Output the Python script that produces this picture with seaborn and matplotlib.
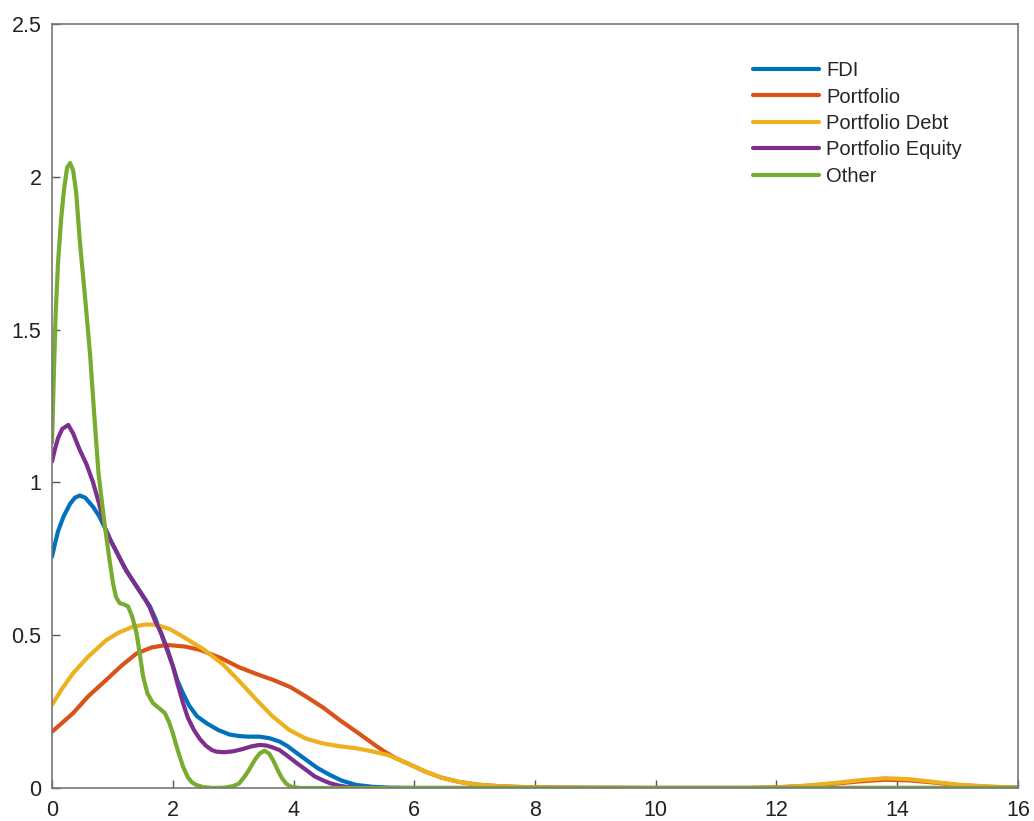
import matplotlib
matplotlib.use("Agg")
import matplotlib.pyplot as plt
import seaborn as sns
import pandas as pd

# ---- data (density curves) ----
fdi_x = [0.0, 0.05, 0.1, 0.19, 0.3, 0.38, 0.46, 0.55, 0.68, 0.78, 0.88, 0.97, 1.05, 1.14, 1.23, 1.35, 1.45,
         1.55, 1.62, 1.7, 1.8, 1.9, 2.0, 2.08, 2.17, 2.27, 2.4, 2.56, 2.75, 2.94, 3.1, 3.25, 3.44, 3.6, 3.77,
         3.9, 4.05, 4.21, 4.4, 4.6, 4.8, 5.04, 5.3, 5.6, 6.0, 8.0, 10.0, 12.0, 14.0, 16.0]
fdi_y = [0.757, 0.8, 0.84, 0.888, 0.93, 0.95, 0.957, 0.95, 0.92, 0.89, 0.85, 0.81, 0.78, 0.745, 0.713, 0.675,
         0.645, 0.615, 0.595, 0.56, 0.51, 0.455, 0.4, 0.35, 0.31, 0.27, 0.235, 0.212, 0.19, 0.175, 0.17, 0.168,
         0.168, 0.163, 0.152, 0.137, 0.115, 0.092, 0.065, 0.043, 0.024, 0.01, 0.004, 0.001, 0.0, 0.0, 0.0, 0.0,
         0.0, 0.0]

port_x = [0.0, 0.15, 0.35, 0.6, 0.9, 1.15, 1.4, 1.65, 1.9, 2.2, 2.45, 2.8, 3.1, 3.4, 3.66, 3.95, 4.21, 4.5,
          4.76, 5.05, 5.31, 5.5, 5.7, 5.95, 6.19, 6.45, 6.74, 7.05, 7.4, 7.8, 8.5, 10.0, 11.5, 12.0, 12.5, 13.0,
          13.4, 13.8, 14.2, 14.6, 15.0, 15.5, 16.0]
port_y = [0.184, 0.21, 0.245, 0.3, 0.354, 0.4, 0.44, 0.46, 0.468, 0.463, 0.452, 0.425, 0.395, 0.372, 0.354,
          0.33, 0.299, 0.262, 0.223, 0.183, 0.146, 0.12, 0.097, 0.075, 0.053, 0.034, 0.02, 0.011, 0.006, 0.003,
          0.001, 0.0, 0.0, 0.002, 0.007, 0.015, 0.022, 0.027, 0.025, 0.018, 0.01, 0.004, 0.001]

debt_x = [0.0, 0.15, 0.35, 0.6, 0.9, 1.1, 1.34, 1.55, 1.73, 1.95, 2.17, 2.5, 2.83, 3.1, 3.38, 3.65, 3.93,
          4.2, 4.48, 4.75, 5.04, 5.3, 5.56, 5.7, 5.95, 6.19, 6.45, 6.74, 7.05, 7.4, 7.8, 8.5, 10.0, 11.5, 12.0,
          12.5, 13.0, 13.4, 13.8, 14.2, 14.6, 15.0, 15.5, 16.0]
debt_y = [0.272, 0.32, 0.376, 0.43, 0.484, 0.508, 0.528, 0.535, 0.534, 0.52, 0.495, 0.455, 0.405, 0.35, 0.29,
          0.235, 0.19, 0.162, 0.146, 0.137, 0.13, 0.12, 0.108, 0.097, 0.075, 0.053, 0.034, 0.02, 0.011, 0.006,
          0.003, 0.001, 0.0, 0.0, 0.002, 0.008, 0.017, 0.026, 0.032, 0.029, 0.02, 0.011, 0.005, 0.001]

eq_x = [0.0, 0.05, 0.1, 0.17, 0.27, 0.35, 0.46, 0.57, 0.68, 0.78, 0.88, 0.97, 1.05, 1.14, 1.23, 1.35, 1.45,
        1.55, 1.62, 1.7, 1.8, 1.9, 2.0, 2.08, 2.17, 2.25, 2.35, 2.45, 2.55, 2.65, 2.72, 2.85, 3.0, 3.15, 3.3,
        3.44, 3.55, 3.65, 3.77, 3.9, 4.05, 4.21, 4.35, 4.5, 4.6, 4.75, 4.9, 5.1, 5.5, 8.0, 10.0, 12.0, 14.0, 16.0]
eq_y = [1.068, 1.11, 1.145, 1.175, 1.188, 1.16, 1.106, 1.06, 1.0, 0.93, 0.85, 0.81, 0.78, 0.745, 0.71, 0.675,
        0.645, 0.615, 0.59, 0.55, 0.51, 0.46, 0.4, 0.34, 0.278, 0.23, 0.19, 0.16, 0.138, 0.124, 0.119, 0.117,
        0.12, 0.127, 0.136, 0.141, 0.139, 0.133, 0.124, 0.105, 0.082, 0.059, 0.038, 0.024, 0.016, 0.008, 0.003,
        0.001, 0.0, 0.0, 0.0, 0.0, 0.0, 0.0]

oth_x = [0.0, 0.03, 0.06, 0.1, 0.15, 0.2, 0.25, 0.3, 0.35, 0.4, 0.46, 0.55, 0.63, 0.7, 0.77, 0.83, 0.88, 0.95,
         1.01, 1.06, 1.12, 1.2, 1.26, 1.33, 1.4, 1.46, 1.51, 1.58, 1.67, 1.78, 1.87, 1.94, 2.0, 2.08, 2.17,
         2.25, 2.32, 2.39, 2.5, 2.67, 2.85, 3.0, 3.1, 3.2, 3.28, 3.36, 3.44, 3.52, 3.6, 3.67, 3.74, 3.81, 3.88,
         3.95, 4.1, 6.0, 8.0, 10.0, 12.0, 14.0, 16.0]
oth_y = [1.13, 1.35, 1.55, 1.72, 1.86, 1.96, 2.03, 2.045, 2.02, 1.95, 1.79, 1.6, 1.42, 1.22, 1.03, 0.93, 0.85,
         0.75, 0.67, 0.625, 0.605, 0.6, 0.594, 0.56, 0.507, 0.43, 0.364, 0.31, 0.278, 0.26, 0.245, 0.215, 0.18,
         0.125, 0.07, 0.035, 0.018, 0.01, 0.003, 0.0, 0.001, 0.006, 0.015, 0.04, 0.065, 0.092, 0.113, 0.122,
         0.112, 0.088, 0.058, 0.032, 0.014, 0.005, 0.0, 0.0, 0.0, 0.0, 0.0, 0.0, 0.0]

series_names = ["FDI", "Portfolio", "Portfolio Debt", "Portfolio Equity", "Other"]
series_x = [fdi_x, port_x, debt_x, eq_x, oth_x]
series_y = [fdi_y, port_y, debt_y, eq_y, oth_y]
colors = ["#0072BD", "#D95319", "#EDB120", "#7E2F8E", "#77AC30"]

x_ticks = [0, 2, 4, 6, 8, 10, 12, 14, 16]
y_ticks = [0, 0.5, 1, 1.5, 2, 2.5]
y_tick_labels = ["0", "0.5", "1", "1.5", "2", "2.5"]

sns.set_theme(style="white")
plt.rcParams["font.family"] = ["Liberation Sans", "DejaVu Sans"]

fig = plt.figure(figsize=(10.34, 8.21), dpi=100)
ax = fig.add_axes([0.0503, 0.0402, 0.9342, 0.9306])

frames = []
for name, xs, ys in zip(series_names, series_x, series_y):
    frames.append(pd.DataFrame({"x": xs, "y": ys, "series": name}))
df = pd.concat(frames, ignore_index=True)

sns.lineplot(data=df, x="x", y="y", hue="series", hue_order=series_names,
             palette=colors, linewidth=3.0, ax=ax, sort=True, estimator=None)

ax.set_xlim(0, 16)
ax.set_ylim(0, 2.5)
ax.set_xticks(x_ticks)
ax.set_xticklabels([str(t) for t in x_ticks])
ax.set_yticks(y_ticks)
ax.set_yticklabels(y_tick_labels)
ax.set_xlabel("")
ax.set_ylabel("")
ax.tick_params(axis="both", direction="in", length=6, width=1, colors="#555555",
               labelcolor="#222222", labelsize=15.5, left=True, bottom=True)
ax.tick_params(axis="x", pad=8.5)
ax.tick_params(axis="y", pad=7.5)
for sp in ax.spines.values():
    sp.set_color("#777777")
    sp.set_linewidth(1.2)
    sp.set_visible(True)

leg = ax.legend(loc="upper left", bbox_to_anchor=(0.717, 0.962), frameon=False,
                fontsize=14.5, handlelength=3.3, handletextpad=0.35, labelspacing=0.37,
                borderaxespad=0)
for line in leg.get_lines():
    line.set_linewidth(3.0)

fig.savefig("out.png", dpi=100, facecolor="white")
